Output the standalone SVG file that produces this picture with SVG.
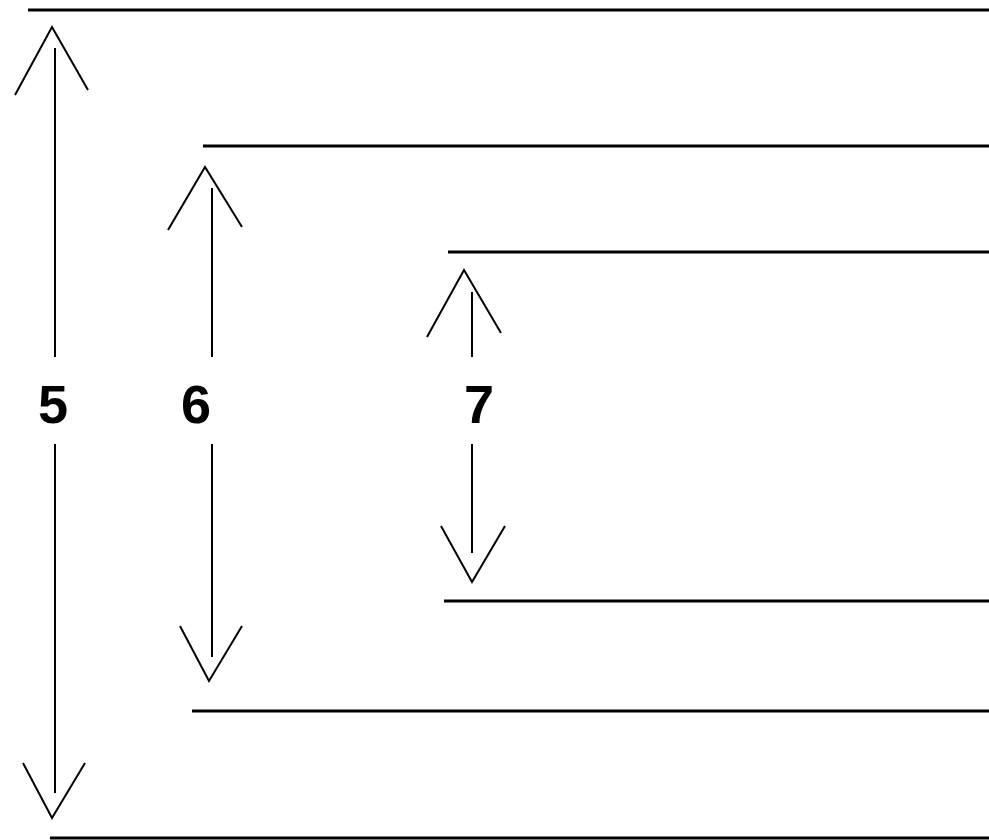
<svg xmlns="http://www.w3.org/2000/svg" width="989" height="840" viewBox="0 0 989 840">
<style>
.lvl{stroke:#000;stroke-width:3;fill:none}
.dim{stroke:#000;stroke-width:2;fill:none}
.head{stroke:#000;stroke-width:2;fill:none;stroke-linejoin:miter}
.lbl{font-family:"Liberation Sans",Arial,sans-serif;font-size:54px;font-weight:bold;fill:#000}
</style>
<rect width="989" height="840" fill="#fff"/>
<g id="levels">
<line class="lvl" x1="28" y1="10" x2="989" y2="10"/>
<line class="lvl" x1="203" y1="146" x2="989" y2="146"/>
<line class="lvl" x1="448" y1="252" x2="989" y2="252"/>
<line class="lvl" x1="444" y1="601" x2="989" y2="601"/>
<line class="lvl" x1="192" y1="711" x2="989" y2="711"/>
<line class="lvl" x1="50" y1="838" x2="989" y2="838"/>
</g>
<g id="connectors">
<g id="dim5">
<line class="dim" x1="55" y1="48" x2="55" y2="357"/>
<line class="dim" x1="55" y1="444" x2="55" y2="793"/>
<polyline class="head" points="15,95 52,27 88,90"/>
<polyline class="head" points="23,763 52,818 85,763"/>
</g>
<g id="dim6">
<line class="dim" x1="212" y1="188" x2="212" y2="357"/>
<line class="dim" x1="212" y1="444" x2="212" y2="657"/>
<polyline class="head" points="168,230 205,167 242,227"/>
<polyline class="head" points="180,626 209,681 242,626"/>
</g>
<g id="dim7">
<line class="dim" x1="472" y1="292" x2="472" y2="357"/>
<line class="dim" x1="472" y1="444" x2="472" y2="553"/>
<polyline class="head" points="427,337 464,270 501,333"/>
<polyline class="head" points="441,526 472,582 505,526"/>
</g>
</g>
<g id="label5"><text class="lbl" x="38" y="423">5</text></g>
<g id="label6"><text class="lbl" x="181" y="423">6</text></g>
<g id="label7"><text class="lbl" x="464" y="423">7</text></g>
</svg>
